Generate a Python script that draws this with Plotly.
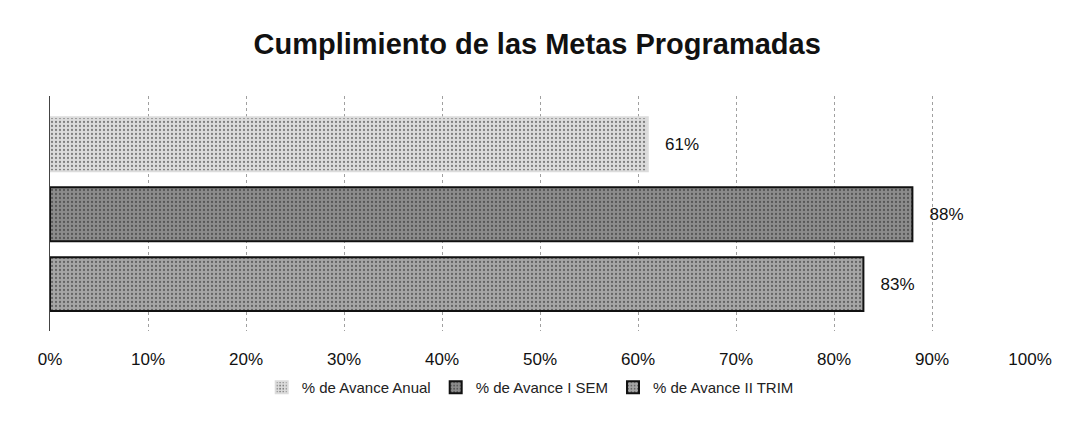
import plotly.graph_objects as go

series = ["% de Avance Anual", "% de Avance I SEM", "% de Avance II TRIM"]
values = [61, 88, 83]
labels = ["61%", "88%", "83%"]
fills = ["#dcdcdc", "#8c8c8c", "#a6a6a6"]
outlines = ["#dcdcdc", "#111111", "#111111"]
tick_vals = [0, 10, 20, 30, 40, 50, 60, 70, 80, 90, 100]
tick_text = ["0%", "10%", "20%", "30%", "40%", "50%", "60%", "70%", "80%", "90%", "100%"]

FONT = "Liberation Sans Narrow, Arial Narrow, Liberation Sans, Arial, sans-serif"

fig = go.Figure()
for name, v, lab, fc, oc in zip(series, values, labels, fills, outlines):
    fig.add_trace(go.Bar(
        y=[name], x=[v], name=name, orientation="h",
        text=[lab], texttemplate="   %{text}", textposition="outside", cliponaxis=False,
        textfont=dict(size=17, color="#111111", family=FONT),
        width=0.77,
        marker=dict(color=fc, line=dict(color=oc, width=2),
                    pattern=dict(shape=".", fgcolor="#222222", bgcolor=fc,
                                 size=4, solidity=0.25)),
    ))

fig.update_layout(
    width=1080, height=447,
    margin=dict(l=42, r=58, t=88, b=124, autoexpand=False),
    paper_bgcolor="white", plot_bgcolor="white",
    title=dict(text="<b>Cumplimiento de las Metas Programadas</b>", x=0.49, xanchor="center",
               y=0.92, yanchor="middle",
               font=dict(size=29, color="#111111", family=FONT)),
    font=dict(family=FONT, color="#111111"),
    showlegend=True,
    legend=dict(orientation="h", x=0.49, xanchor="center", y=-0.17, yanchor="top",
                font=dict(size=15, family=FONT, color="#222222"), itemwidth=30),
)
fig.update_xaxes(range=[0, 100], tickvals=tick_vals, ticktext=tick_text,
                 showgrid=True, gridcolor="#a0a0a0", griddash="dot", gridwidth=1,
                 zeroline=False, showline=False, ticks="outside", ticklen=13,
                 tickcolor="white", automargin=False,
                 tickfont=dict(size=17, family=FONT, color="#111111"))
fig.update_yaxes(categoryorder="array", categoryarray=series,
                 range=[2.67, -0.69], showticklabels=False, showgrid=False,
                 zeroline=False, showline=True, linecolor="#444444",
                 linewidth=1, automargin=False)

fig.write_html("out.html")
